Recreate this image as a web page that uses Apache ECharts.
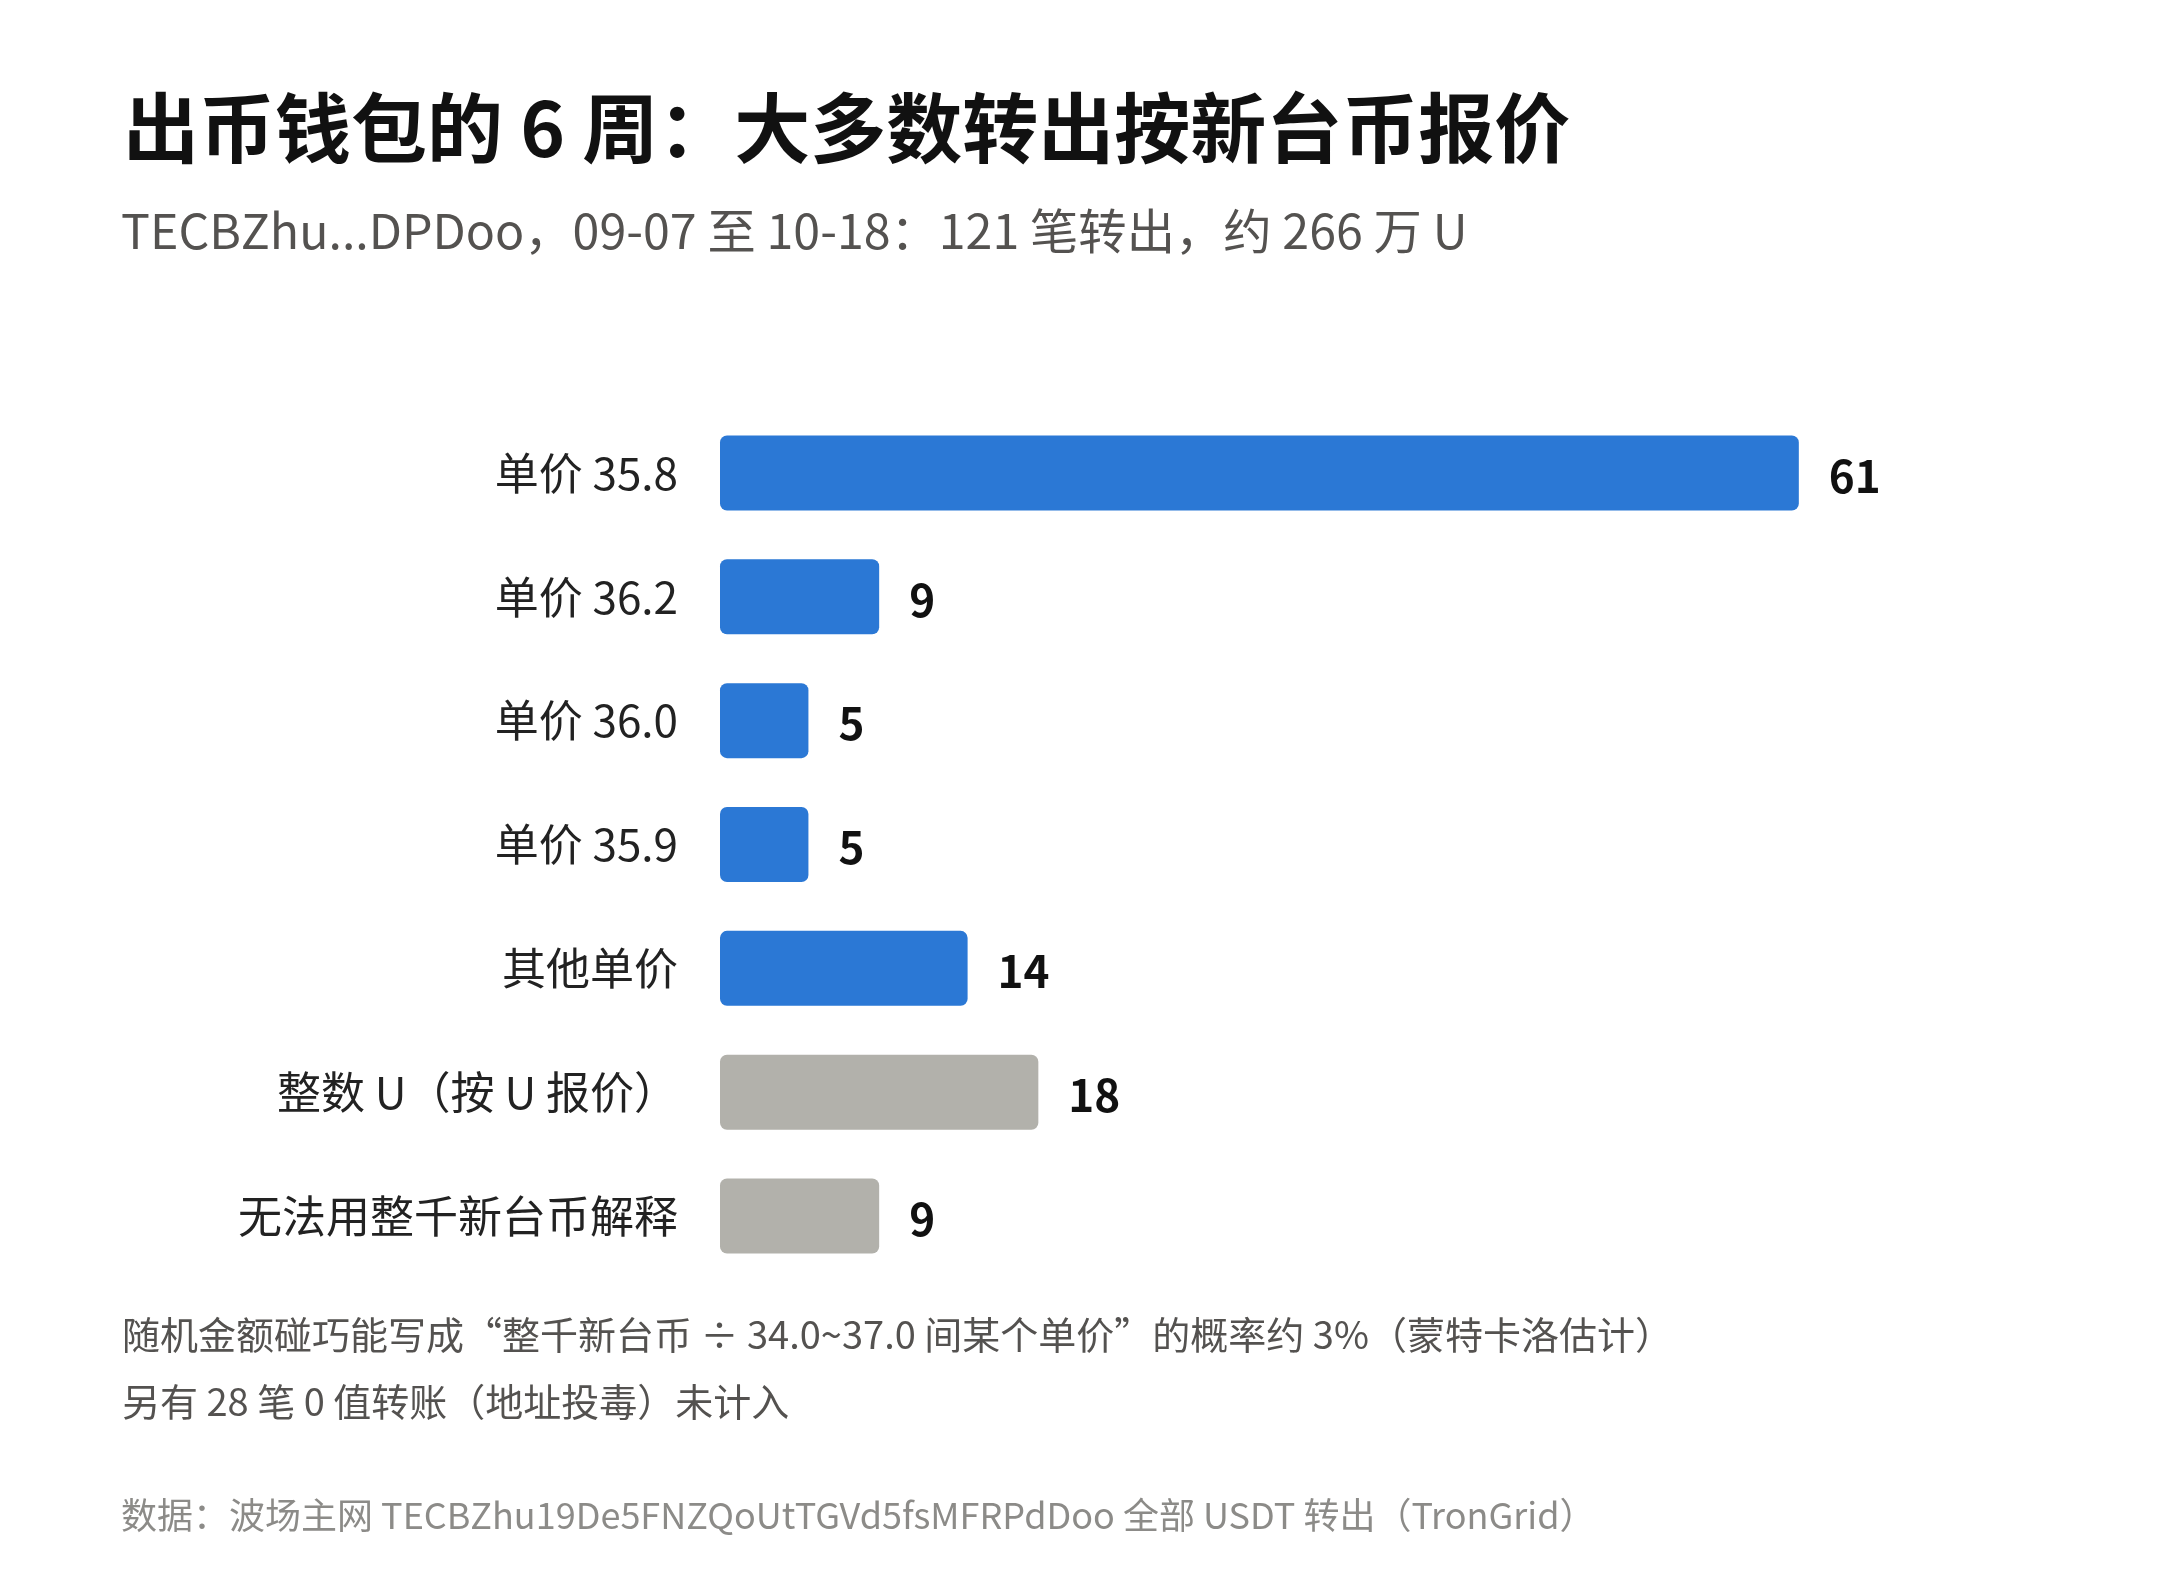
<!DOCTYPE html>
<html lang="zh-CN">
<head>
    <meta charset="UTF-8">
    <title>出币钱包的 6 周</title>
    <style>
        html, body { margin: 0; padding: 0; background: #fff; }
    </style>
</head>
<body>
<div id="echart" style="width: 2160px; height: 1588px;"></div>

<script src="https://cdn.jsdelivr.net/npm/echarts@6/dist/echarts.min.js"></script>
<script>
    // 分类（从上到下）
    var categories = ['单价 35.8', '单价 36.2', '单价 36.0', '单价 35.9', '其他单价', '整数 U（按 U 报价）', '无法用整千新台币解释'];
    // 各类转出笔数
    var counts = [61, 9, 5, 5, 14, 18, 9];
    // 是否按整千新台币报价
    var isTwd = [true, true, true, true, true, false, false];

    var FONT = '"Noto Sans CJK SC", "Noto Sans", sans-serif';
    var BLUE = '#2b78d5';
    var GREY = '#b2b1ab';

    var dom = document.getElementById('echart');
    var myChart = echarts.init(dom);

    var barData = counts.map(function (v, i) {
        return {
            value: v,
            itemStyle: { color: isTwd[i] ? BLUE : GREY }
        };
    });

    var option = {
        backgroundColor: '#fff',
        textStyle: { fontFamily: FONT },
        title: [
            {
                text: '出币钱包的 6 周：大多数转出按新台币报价',
                left: 123, top: 90, padding: 0,
                textStyle: { fontSize: 76, lineHeight: 76, fontWeight: 'bold', color: '#111', fontFamily: FONT }
            },
            {
                text: 'TECBZhu...DPDoo，09-07 至 10-18：121 笔转出，约 266 万 U',
                left: 121, top: 207, padding: 0,
                textStyle: { fontSize: 48.3, lineHeight: 48, fontWeight: 'normal', color: '#545250', fontFamily: FONT }
            },
            {
                text: '随机金额碰巧能写成“整千新台币 ÷ 34.0~37.0 间某个单价”的概率约 3%（蒙特卡洛估计）',
                left: 122, top: 1316, padding: 0,
                textStyle: { fontSize: 38, lineHeight: 38, fontWeight: 'normal', color: '#545250', fontFamily: FONT }
            },
            {
                text: '另有 28 笔 0 值转账（地址投毒）未计入',
                left: 122, top: 1383, padding: 0,
                textStyle: { fontSize: 38, lineHeight: 38, fontWeight: 'normal', color: '#545250', fontFamily: FONT }
            },
            {
                text: '数据：波场主网 TECBZhu19De5FNZQoUtTGVd5fsMFRPdDoo 全部 USDT 转出（TronGrid）',
                left: 121, top: 1497, padding: 0,
                textStyle: { fontSize: 36, lineHeight: 36, fontWeight: 'normal', color: '#8c8b88', fontFamily: FONT }
            }
        ],
        grid: {
            left: 720,
            top: 411,
            height: 867,
            right: 202
        },
        xAxis: {
            type: 'value',
            min: 0,
            max: 70,
            show: false
        },
        yAxis: {
            type: 'category',
            data: categories,
            inverse: true,
            axisLine: { show: false },
            axisTick: { show: false },
            splitLine: { show: false },
            axisLabel: {
                margin: 42,
                fontSize: 44,
                color: '#222',
                padding: [0, 0, 11, 0],
                fontFamily: FONT
            }
        },
        series: [
            {
                type: 'bar',
                data: barData,
                barWidth: 75,
                itemStyle: { borderRadius: 7 },
                label: {
                    show: true,
                    position: 'right',
                    distance: 30,
                    offset: [0, 3],
                    fontSize: 44,
                    fontWeight: 'bold',
                    color: '#111',
                    fontFamily: FONT
                },
                silent: true,
                animation: false
            }
        ]
    };
    myChart.setOption(option, true);
</script>
</body>
</html>
